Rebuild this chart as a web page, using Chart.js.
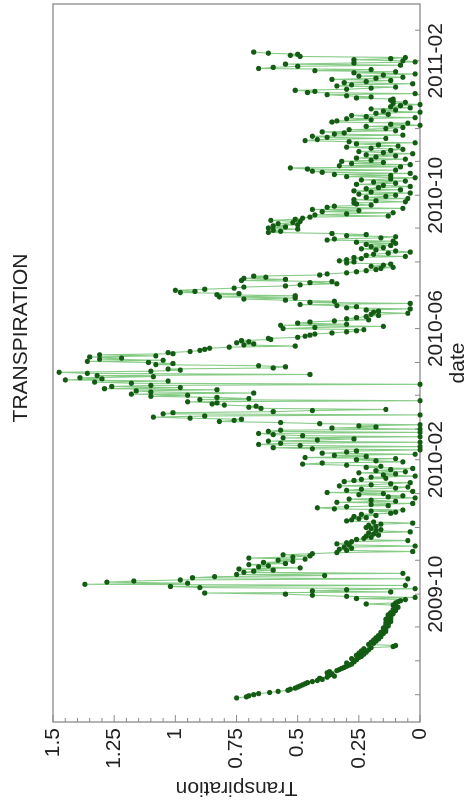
<!DOCTYPE html>
<html>
<head>
<meta charset="utf-8">
<title>Transpiration</title>
<script src="https://cdn.jsdelivr.net/npm/chart.js@4"></script>
<style>
    html, body { margin: 0; padding: 0; background: #fff; overflow: hidden; }
    /* the chart is drawn landscape and turned a quarter turn counter-clockwise */
    #wrap {
        position: absolute; left: 0; top: 0;
        width: 810px; height: 471px;
        transform-origin: 0 0;
        transform: translateY(810px) rotate(-90deg);
    }
</style>
</head>
<body>
<div id="wrap"><canvas id="transpChart" width="810" height="471"></canvas></div>
<script>
// Daily transpiration, one block per month (first day of block, then one value per day)
const blockStarts = [
    '2009-06-28', '2009-07-01', '2009-08-01', '2009-09-01', '2009-10-01', '2009-11-01', '2009-12-01',
    '2010-01-01', '2010-02-01', '2010-03-01', '2010-04-01', '2010-05-01', '2010-06-01', '2010-07-01',
    '2010-08-01', '2010-09-01', '2010-10-01', '2010-11-01', '2010-12-01', '2011-01-01', '2011-02-01'
];
const blockValues = [
    [.75,.71,.70],
    [.68,.66,.615,.58,.54,.53,.51,.50,.49,.48,.47,.46,.44,.42,.40,.41,.38,.35,.37,.36,.38,.37,.34,.33,.32,.31,.30,.29,.28,.30,.27],
    [.27,.26,.28,.25,.24,.26,.23,.25,.22,.24,.21,.23,.20,.11,.10,.21,.19,.20,.18,.19,.17,.18,.16,.17,.16,.15,.16,.14,.15,.14,.15],
    [.14,.13,.14,.13,.14,.12,.13,.14,.12,.13,.12,.13,.11,.12,.11,.10,.11,.10,.09,.10,.11,.22,.10,.09,.08,.06,.26,.02,.30,.44],
    [.55,.88,.12,.44,.30,.02,.90,1.02,.06,1.37,.95,1.28,1.17,.98,.05,.93,.84,.39,.75,.07,.72,.68,.60,.74,.49,.66,.62,.70,.55,.64,.52],
    [.58,.47,.70,.52,.45,.56,.44,.34,.03,.30,.33,.28,.31,.02,.29,.34,.30,.28,.05,.26,.23,.20,.22,.17,.19,.21,.04,.18,.16,.20],
    [.22,.18,.21,.16,.03,.19,.30,.28,.25,.22,.27,.18,.24,.12,.10,.20,.07,.35,.42,.30,.13,.20,.03,.34,.10,.20,.29,.02,.13,.07,.25],
    [.15,.38,.03,.30,.24,.10,.05,.33,.20,.12,.04,.31,.27,.24,.14,.20,.02,.15,.10,.25,.06,.18,.12,.03,.22,.16,.30,.48,.40,.07,.18],
    [.26,.10,.47,.22,.35,.02,.40,.30,.26,.00,.44,.60,.00,.49,.66,.57,.00,.62,.42,.27,.56,.00,.48,.60,.66,.00,.62,.57],
    [.00,.36,.18,.25,.00,.41,.57,.82,.76,.73,.94,1.09,.88,.00,1.05,1.01,.60,.44,.14,.65,.70,.67,.80,.85,.83,.95,.00,.90,.70,.83,1.10],
    [.95,1.18,.68,1.10,1.16,.83,1.29,.98,1.26,1.10,.00,1.18,1.33,1.03,1.45,1.30,1.39,1.09,1.32,.45,1.36,1.475,1.10,.98,1.03,.60,.55,.66,1.08,1.01],
    [1.11,1.36,1.05,1.31,1.22,1.35,1.08,1.31,1.01,1.03,.94,.90,.88,.86,.78,.51,.72,.68,.75,.70,.73,.61,.62,.50,.47,.45,.43,.36,.30,.26,.23],
    [.56,.43,.15,.57,.30,.50,.45,.35,.21,.30,.26,.22,.17,.20,.05,.19,.17,.22,.04,.30,.26,.34,.49,.04,.45,.35,.55,.72,.51,.82],
    [.51,.83,.74,.98,.92,1.00,.88,.76,.72,.55,.49,.34,.45,.36,.73,.55,.72,.63,.68,.41,.38,.30,.26,.22,.18,.16,.11,.20,.15,.12,.30],
    [.27,.33,.30,.24,.27,.06,.22,.19,.13,.04,.10,.18,.24,.15,.20,.12,.22,.10,.26,.11,.38,.35,.16,.10,.30,.22,.36,.62,.57,.60,.50],
    [.62,.55,.60,.50,.58,.52,.49,.61,.51,.48,.45,.13,.43,.30,.11,.40,.25,.44,.07,.38,.35,.20,.26,.27,.06,.18,.27,.05,.22,.14],
    [.10,.25,.04,.20,.27,.08,.22,.17,.04,.15,.26,.10,.19,.06,.24,.12,.02,.30,.12,.35,.04,.40,.44,.10,.46,.53,.08,.33,.04,.28,.15],
    [.32,.20,.06,.26,.18,.10,.22,.03,.15,.25,.12,.07,.20,.30,.09,.17,.26,.02,.29,.47,.42,.14,.38,.44,.07,.35,.31,.40,.10,.29],
    [.14,.07,.22,.00,.12,.05,.36,.34,.20,.30,.02,.22,.28,.13,.18,.00,.15,.10,.20,.04,.12,.08,.00,.11,.06,.11,.12,.11,.26,.20,.30],
    [.38,.02,.46,.43,.51,.30,.20,.10,.34,.28,.03,.31,.22,.12,.36,.18,.07,.25,.15,.02,.27,.10,.43,.20,.66,.60,.50,.08,.55,.27,.02],
    [.07,.27,.12,.06,.49,.53,.50,.62,.68]
];

// axis ticks
const monthTicks = [
    '2009-07-01', '2009-08-01', '2009-09-01', '2009-10-01', '2009-11-01', '2009-12-01',
    '2010-01-01', '2010-02-01', '2010-03-01', '2010-04-01', '2010-05-01', '2010-06-01',
    '2010-07-01', '2010-08-01', '2010-09-01', '2010-10-01', '2010-11-01', '2010-12-01',
    '2011-01-01', '2011-02-01', '2011-03-01'
];
const dateLabels = ['2009-10', '2010-02', '2010-06', '2010-10', '2011-02'];
const valueTicks = [0, 0.25, 0.5, 0.75, 1, 1.25, 1.5];
const dateRange = ['2009-06-06', '2011-03-25'];

const DAY = 86400000;
const FONT = "'Liberation Sans', Arial, sans-serif";
const AXIS_GREY = '#8a8a8a';

function dayNum(s) {
    const p = s.split('-').map(Number);
    return Date.UTC(p[0], p[1] - 1, p[2]) / DAY;
}
function monthLabel(n) {
    const d = new Date(Math.round(n) * DAY);
    return d.getUTCFullYear() + '-' + String(d.getUTCMonth() + 1).padStart(2, '0');
}

// build the point list
const points = [];
blockStarts.forEach((start, b) => {
    const first = dayNum(start);
    blockValues[b].forEach((v, i) => points.push({ x: first + i, y: v }));
});

// frame plus inward tick marks, like the original plot
const framePlugin = {
    id: 'frame',
    beforeDatasetsDraw(chart) {
        const { ctx, chartArea: a, scales } = chart;
        ctx.save();
        ctx.strokeStyle = AXIS_GREY;
        ctx.lineWidth = 1.3;
        ctx.strokeRect(a.left, a.top, a.right - a.left, a.bottom - a.top);
        ctx.lineWidth = 1;
        ctx.beginPath();
        monthTicks.forEach(s => {
            const px = scales.x.getPixelForValue(dayNum(s));
            if (px < a.left || px > a.right) return;
            ctx.moveTo(px, a.bottom);
            ctx.lineTo(px, a.bottom - 5);
        });
        for (let k = 0; k <= 30; k++) {
            const v = k * 0.05;
            const py = scales.y.getPixelForValue(v);
            const len = (k % 5 === 0) ? 7 : 4;
            ctx.moveTo(a.left, py);
            ctx.lineTo(a.left + len, py);
        }
        ctx.stroke();
        ctx.restore();
    }
};

const titlePlugin = {
    id: 'plotTitle',
    afterDraw(chart) {
        const { ctx, chartArea: a } = chart;
        ctx.save();
        ctx.fillStyle = '#222';
        ctx.font = '21px ' + FONT;
        ctx.textAlign = 'center';
        ctx.textBaseline = 'middle';
        ctx.fillText('TRANSPIRATION', (a.left + a.right) / 2 + 25, 21);
        ctx.restore();
    }
};

const ctx = document.getElementById('transpChart').getContext('2d');
new Chart(ctx, {
    type: 'line',
    data: {
        datasets: [{
            label: 'Transpiration',
            data: points,
            borderColor: 'rgba(70, 175, 70, 0.65)',
            borderWidth: 1.1,
            pointRadius: 2.6,
            pointBorderWidth: 0,
            pointBackgroundColor: '#145c14',
            pointBorderColor: '#145c14',
            tension: 0,
            clip: 4
        }]
    },
    options: {
        responsive: false,
        animation: false,
        devicePixelRatio: 1,
        layout: { padding: { top: 53, right: 1, left: 0, bottom: 0 } },
        plugins: {
            legend: { display: false },
            tooltip: { enabled: false }
        },
        scales: {
            x: {
                type: 'linear',
                min: dayNum(dateRange[0]),
                max: dayNum(dateRange[1]),
                afterBuildTicks(scale) {
                    scale.ticks = monthTicks.map(s => ({ value: dayNum(s) }));
                },
                afterFit(scale) { scale.height = 51; },
                grid: { display: false, drawTicks: false },
                border: { display: false },
                ticks: {
                    autoSkip: false,
                    maxRotation: 0,
                    minRotation: 0,
                    padding: 4,
                    color: '#222',
                    font: { family: FONT, size: 21 },
                    callback: (v) => {
                        const m = monthLabel(v);
                        return dateLabels.includes(m) ? m : '';
                    }
                },
                title: {
                    display: true,
                    text: 'date',
                    color: '#222',
                    font: { family: FONT, size: 21 },
                    padding: 0
                }
            },
            y: {
                min: 0,
                max: 1.5,
                afterBuildTicks(scale) {
                    scale.ticks = valueTicks.map(v => ({ value: v }));
                },
                afterFit(scale) { scale.width = 88; },
                grid: { display: false, drawTicks: false },
                border: { display: false },
                ticks: {
                    padding: 6,
                    color: '#222',
                    font: { family: FONT, size: 21 },
                    callback: (v) => String(v)
                },
                title: {
                    display: true,
                    text: 'Transpiration',
                    color: '#222',
                    font: { family: FONT, size: 21 },
                    padding: { top: 10, bottom: 0 }
                }
            }
        }
    },
    plugins: [framePlugin, titlePlugin]
});
</script>
</body>
</html>
